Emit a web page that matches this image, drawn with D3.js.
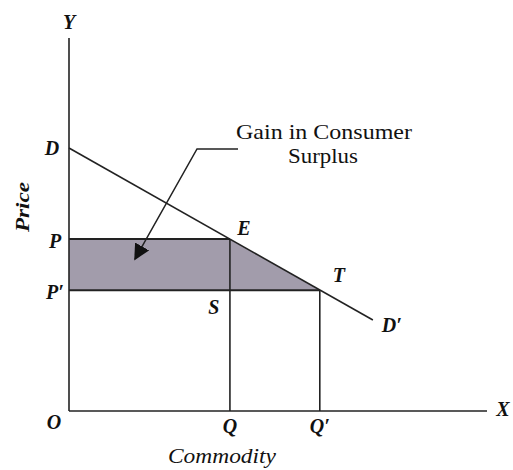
<!DOCTYPE html>
<html>
<head>
<meta charset="utf-8">
<script src="https://cdn.jsdelivr.net/npm/d3@7"></script>
<style>
  body { margin: 0; background: #fff; }
  text { font-family: "Liberation Serif", "DejaVu Serif", serif; }
</style>
</head>
<body>
<div id="chart"></div>
<script>
// demand curve points (quantity, price) in chart units
var demandQty = [0, 72.7];
var demandPrice = [70.5, 24.4];
// old and new equilibrium
var quantities = [38.5, 60];     // Q, Q'
var prices = [46.1, 32.4];       // P, P'
var qLabels = ["Q", "Q\u2032"];
var pLabels = ["P", "P\u2032"];

var w = 513, h = 470;
var margin = { top: 38, right: 26, bottom: 59, left: 69 },
    width = w - margin.left - margin.right,
    height = h - margin.top - margin.bottom;

var x = d3.scaleLinear().domain([0, 100]).range([0, width]);
var y = d3.scaleLinear().domain([0, 100]).range([height, 0]);

var svg = d3.select('#chart').append('svg')
    .attr("width", w)
    .attr("height", h)
    .append("g")
    .attr("transform", "translate(" + margin.left + "," + margin.top + ")");

// demand price at a quantity
function dp(q) {
    var k = (demandPrice[1] - demandPrice[0]) / (demandQty[1] - demandQty[0]);
    return demandPrice[0] + k * (q - demandQty[0]);
}

// shaded gain in consumer surplus: P E T P'
var area = [
    [0, prices[0]],
    [quantities[0], dp(quantities[0])],
    [quantities[1], dp(quantities[1])],
    [0, prices[1]]
];
svg.append("path")
    .attr("d", d3.line().x(function(d) { return x(d[0]); }).y(function(d) { return y(d[1]); })(area) + "Z")
    .attr("fill", "#a29cab")
    .attr("stroke", "none");

// horizontal price lines
svg.selectAll(".pline")
    .data([0, 1])
    .enter().append("line")
    .attr("x1", x(0))
    .attr("x2", function(i) { return x(quantities[i]); })
    .attr("y1", function(i) { return y(prices[i]); })
    .attr("y2", function(i) { return y(prices[i]); })
    .attr("stroke", "#222")
    .attr("stroke-width", 2);

// vertical quantity lines
svg.selectAll(".qline")
    .data([0, 1])
    .enter().append("line")
    .attr("x1", function(i) { return x(quantities[i]); })
    .attr("x2", function(i) { return x(quantities[i]); })
    .attr("y1", function(i) { return y(prices[i]); })
    .attr("y2", y(0))
    .attr("stroke", "#222")
    .attr("stroke-width", 1.6);

// demand line
svg.append("line")
    .attr("x1", x(demandQty[0])).attr("y1", y(demandPrice[0]))
    .attr("x2", x(demandQty[1])).attr("y2", y(demandPrice[1]))
    .attr("stroke", "#222")
    .attr("stroke-width", 1.6);

// axes
svg.append("line")
    .attr("x1", 0).attr("y1", y(0)).attr("x2", 0).attr("y2", y(100))
    .attr("stroke", "#222").attr("stroke-width", 1.6);
svg.append("line")
    .attr("x1", 0).attr("y1", y(0)).attr("x2", x(100)).attr("y2", y(0))
    .attr("stroke", "#222").attr("stroke-width", 1.6);

// arrow from callout to shaded area
svg.append("defs").append("marker")
    .attr("id", "head")
    .attr("viewBox", "0 0 10 10")
    .attr("refX", 9).attr("refY", 5)
    .attr("markerWidth", 16).attr("markerHeight", 16)
    .attr("markerUnits", "userSpaceOnUse")
    .attr("orient", "auto")
    .append("path")
    .attr("d", "M0,0L10,5L0,10Z")
    .attr("fill", "#111");

svg.append("path")
    .attr("d", "M" + (238 - margin.left) + "," + (149 - margin.top) +
               "L" + (197 - margin.left) + "," + (149 - margin.top) +
               "L" + (135 - margin.left) + "," + (259 - margin.top))
    .attr("fill", "none")
    .attr("stroke", "#222")
    .attr("stroke-width", 1.5)
    .attr("marker-end", "url(#head)");

// callout text
var callout = svg.append("text")
    .attr("text-anchor", "middle")
    .attr("font-size", "22px")
    .attr("fill", "#111");
callout.append("tspan").attr("x", 324 - margin.left).attr("y", 139 - margin.top)
    .attr("textLength", 176).attr("lengthAdjust", "spacingAndGlyphs").text("Gain in Consumer");
callout.append("tspan").attr("x", 323 - margin.left).attr("y", 163 - margin.top)
    .attr("textLength", 70).attr("lengthAdjust", "spacingAndGlyphs").text("Surplus");

// point labels
function lab(txt, px, py, size) {
    svg.append("text")
        .attr("x", px).attr("y", py)
        .attr("dy", "0.35em")
        .attr("text-anchor", "middle")
        .attr("font-size", (size || 20) + "px")
        .attr("font-style", "italic")
        .attr("font-weight", "bold")
        .attr("fill", "#111")
        .text(txt);
}

lab("Y", 0, -16);
lab("X", x(100) + 16, y(0) - 2);
lab("O", -15, y(0) + 11);
lab("D", -17, y(demandPrice[0]));
lab("D\u2032", x(demandQty[1]) + 19, y(demandPrice[1]) + 5);
pLabels.forEach(function(t, i) { lab(t, -14, y(prices[i]) + 2); });
qLabels.forEach(function(t, i) { lab(t, x(quantities[i]), y(0) + 15); });
lab("E", x(quantities[0]) + 14, y(dp(quantities[0])) - 11);
lab("T", x(quantities[1]) + 19, y(dp(quantities[1])) - 15);
lab("S", x(quantities[0]) - 16, y(prices[1]) + 17);

// axis titles
svg.append("text")
    .attr("x", 222 - margin.left).attr("y", 463 - margin.top)
    .attr("text-anchor", "middle")
    .attr("font-size", "22px")
    .attr("font-style", "italic")
    .attr("textLength", 108)
    .attr("lengthAdjust", "spacingAndGlyphs")
    .attr("fill", "#111")
    .text("Commodity");

svg.append("text")
    .attr("transform", "translate(" + (22 - margin.left) + "," + (207 - margin.top) + ") rotate(-90)")
    .attr("dy", "0.35em")
    .attr("text-anchor", "middle")
    .attr("font-size", "19px")
    .attr("font-style", "italic")
    .attr("font-weight", "bold")
    .attr("fill", "#111")
    .attr("textLength", 50)
    .attr("lengthAdjust", "spacingAndGlyphs")
    .text("Price");
</script>
</body>
</html>
